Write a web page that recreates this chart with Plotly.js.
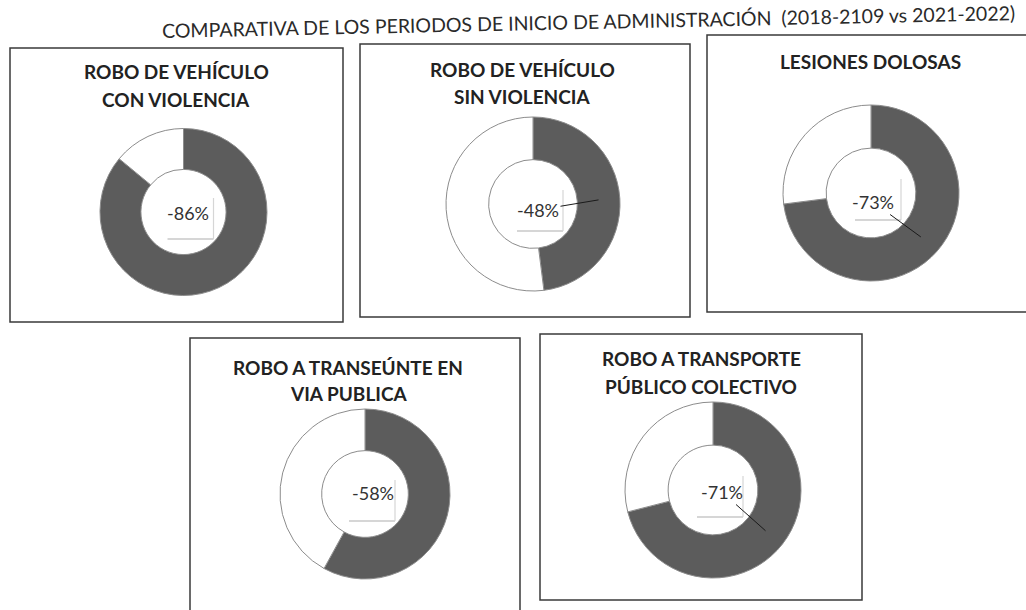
<!DOCTYPE html>
<html>
<head>
<meta charset="utf-8">
<script src="https://cdn.plot.ly/plotly-3.0.1.min.js"></script>
<style>
  html, body { margin: 0; padding: 0; background: #ffffff; }
  #chart { width: 1026px; height: 610px; }
</style>
</head>
<body>
<div id="chart"></div>
<script>
// ---------------- DATA ----------------
const mainTitle = "COMPARATIVA DE LOS PERIODOS DE INICIO DE ADMINISTRACIÓN \u00a0(2018-2109 vs 2021-2022)";
const categories = [
  "ROBO DE VEHÍCULO<br>CON VIOLENCIA",
  "ROBO DE VEHÍCULO<br>SIN VIOLENCIA",
  "LESIONES DOLOSAS",
  "ROBO A TRANSEÚNTE EN<br>VIA PUBLICA",
  "ROBO A TRANSPORTE<br>PÚBLICO COLECTIVO"
];
const reduction = [86, 48, 73, 58, 71];   // dark slice
const remainder = [14, 52, 27, 42, 29];   // white slice
const pctLabels = ["-86%", "-48%", "-73%", "-58%", "-71%"];
const hasLeader = [false, true, true, false, true];
const sliceNames = ["Reducción", "Resto"];

// ---------------- LAYOUT CONSTANTS ----------------
const W = 1026, H = 610;
const panels = [
  { box: [10, 48, 343, 322],  cx: 183.5, cy: 212, r: 83.5, tx: 176, ty: [72, 100], lx: 4, ly: 1 },
  { box: [360, 44, 690, 317], cx: 533,   cy: 204, r: 87,   tx: 522, ty: [69, 96],  lx: 5, ly: 6 },
  { box: [707, 35, 1040, 312],cx: 871,   cy: 193, r: 88,   tx: 870, ty: [62],      lx: 2, ly: 9 },
  { box: [190, 338, 520, 614],cx: 365,   cy: 494, r: 85,   tx: 348, ty: [367, 393],lx: 8, ly: -1 },
  { box: [540, 334, 862, 600],cx: 713,   cy: 490, r: 88,   tx: 701, ty: [358, 386],lx: 9, ly: 2 }
];
const HOLE = 0.51;
const px = x => x / W;
const py = y => 1 - y / H;

const data = [];
const shapes = [];
const annotations = [];

panels.forEach((p, i) => {
  data.push({
    type: 'pie',
    values: [reduction[i], remainder[i]],
    labels: sliceNames,
    sort: false,
    direction: 'clockwise',
    rotation: 0,
    hole: HOLE,
    textinfo: 'none',
    hoverinfo: 'label+value',
    showlegend: false,
    marker: { colors: ['#5c5c5c', '#ffffff'], line: { color: '#8c8c8c', width: 1 } },
    domain: { x: [px(p.cx - p.r), px(p.cx + p.r)], y: [py(p.cy + p.r), py(p.cy - p.r)] }
  });

  // panel frame
  shapes.push({
    type: 'rect', xref: 'paper', yref: 'paper',
    x0: px(p.box[0]), x1: px(p.box[2]), y0: py(p.box[3]), y1: py(p.box[1]),
    line: { color: '#3a3a3a', width: 1.5 }, fillcolor: 'rgba(0,0,0,0)', layer: 'below'
  });

  // faint label-box edges inside the hole
  shapes.push({ type: 'line', xref: 'paper', yref: 'paper',
    x0: px(p.cx - 16), x1: px(p.cx + 30), y0: py(p.cy + 27), y1: py(p.cy + 27),
    line: { color: '#c9c9c9', width: 1.5 } });
  shapes.push({ type: 'line', xref: 'paper', yref: 'paper',
    x0: px(p.cx + 30), x1: px(p.cx + 30), y0: py(p.cy - 14), y1: py(p.cy + 27),
    line: { color: '#d6d6d6', width: 1.2 } });

  // panel title (one annotation per line)
  const lines = categories[i].split('<br>');
  lines.forEach((t, k) => {
    annotations.push({
      xref: 'paper', yref: 'paper', x: px(p.tx), y: py(p.ty[k]),
      xanchor: 'center', yanchor: 'middle', showarrow: false,
      text: '<b>' + t + '</b>',
      font: { family: 'Lato, "Open Sans", sans-serif', size: 19, color: '#222222' }
    });
  });

  // percentage label, with leader line to the middle of the dark slice
  const lxp = p.cx + p.lx, lyp = p.cy + p.ly;
  const ann = {
    xref: 'paper', yref: 'paper',
    text: pctLabels[i],
    font: { family: 'Lato, "Open Sans", sans-serif', size: 18, color: '#333333' },
    xanchor: 'center', yanchor: 'middle'
  };
  if (hasLeader[i]) {
    const theta = (reduction[i] / (reduction[i] + remainder[i])) * Math.PI; // half of dark slice
    const rm = p.r * (1 + HOLE) / 2;
    const ex = p.cx + rm * Math.sin(theta);
    const ey = p.cy - rm * Math.cos(theta);
    Object.assign(ann, {
      x: px(ex), y: py(ey), showarrow: true, arrowhead: 0, arrowwidth: 1,
      arrowcolor: '#1a1a1a', standoff: 0, ax: lxp - ex, ay: lyp - ey
    });
  } else {
    Object.assign(ann, { x: px(lxp), y: py(lyp), showarrow: false });
  }
  annotations.push(ann);
});

// main title (scan is slightly tilted)
annotations.push({
  xref: 'paper', yref: 'paper', x: px(588), y: py(22),
  xanchor: 'center', yanchor: 'middle', showarrow: false, textangle: -1.2,
  text: mainTitle,
  font: { family: 'Lato, "Open Sans", sans-serif', size: 19.5, color: '#2a2a2a' }
});

const layout = {
  width: W, height: H,
  margin: { l: 0, r: 0, t: 0, b: 0 },
  paper_bgcolor: '#ffffff',
  plot_bgcolor: '#ffffff',
  shapes: shapes,
  annotations: annotations,
  showlegend: false
};

Plotly.newPlot('chart', data, layout, { displayModeBar: false, staticPlot: true });
</script>
</body>
</html>
